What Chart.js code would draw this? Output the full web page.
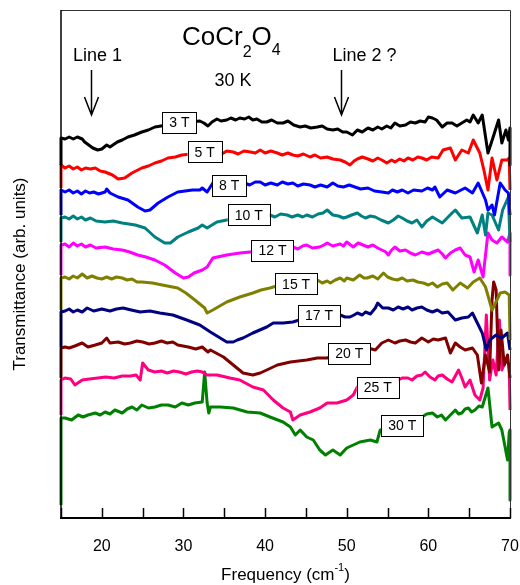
<!DOCTYPE html>
<html>
<head>
<meta charset="utf-8">
<script src="https://cdn.jsdelivr.net/npm/chart.js@4"></script>
<style>
  body { margin: 0; background: #fff; }
  canvas { display: block; }
</style>
</head>
<body>
<canvas id="chart" width="520" height="585"></canvas>
<script>
// CoCr2O4 transmittance spectra at 30 K, curves offset by field.
// Each series: [frequency (cm-1), transmittance (arb. units, offset)]

const s3T = [[15,353],[15,380],[15.5,379],[16,381],[16.5,379],[17,381],[17.6,379],[17.9,376],[18.9,370],[19.5,368],[20,369],[20.6,373],[21,371],[21.9,376],[22.5,378],[23.2,381],[24,383],[24.9,386],[25.7,388],[26.5,391],[28,393],[29.5,395],[30.8,396],[32,397],[32.5,395],[33,392],[33.5,396],[34.1,399],[34.6,397],[35.3,398],[35.8,400],[36.4,398],[36.9,400],[37.5,399],[38,401],[38.5,398],[39,399],[39.6,396],[40.2,396],[40.8,398],[41.5,395],[42.2,395],[42.8,397],[43.5,393],[44.3,391],[44.9,392],[45.6,390],[46.4,391],[47,392],[47.6,389],[48.3,388],[48.9,389],[49.5,386],[50,386],[50.7,383],[51.3,388],[51.9,386],[52.6,390],[53.2,388],[53.8,391],[54.3,389],[54.9,392],[55.4,390],[55.9,395],[56.5,392],[57.2,393],[57.8,396],[58.4,395],[59,397],[59.6,396],[60,401],[60.5,400],[61,398],[61.7,391],[62.3,395],[62.9,395],[63.5,392],[64.1,395],[64.7,398],[65.1,396],[65.5,403],[66.1,395],[66.6,403],[67.3,365],[67.9,380],[68.6,398],[69,375],[69.5,388],[69.8,378],[70,390],[70,353]];

const s5T = [[15,330],[15,353],[15.5,350],[16,352],[16.5,349],[17,351],[17.5,348],[18,350],[18.6,349],[19.2,350],[19.8,347],[20.4,346],[21.3,343],[22,339],[22.8,340],[23.7,345],[24.9,350],[25.7,352],[26.5,355],[27.3,357],[28.1,360],[29,361],[29.8,363],[31,364],[32.5,365],[34.1,366],[34.7,364],[35.3,367],[36.1,366],[36.7,364],[37.4,367],[38.2,366],[38.8,365],[39.4,368],[40,365],[40.7,367],[41.5,365],[42.1,363],[42.8,365],[43.4,363],[44,362],[44.7,364],[45.5,361],[46.1,363],[46.8,360],[47.6,361],[48.3,359],[49.2,358],[49.8,356],[50.4,353],[50.9,357],[51.3,359],[51.9,361],[52.6,359],[53.2,357],[53.8,360],[54.3,358],[54.9,355],[55.5,358],[55.9,356],[56.5,359],[57,357],[57.5,360],[58.1,358],[58.7,361],[59.2,360],[59.8,358],[60.4,361],[61.2,360],[61.8,368],[62.7,370],[63.3,358],[64.1,368],[64.9,365],[65.5,378],[66.3,365],[66.8,348],[67.3,328],[67.8,360],[68.4,338],[69,358],[69.7,358],[69.9,360],[70,328]];

const s8T = [[15,303],[15,328],[15.5,326],[16,328],[16.5,325],[17,327],[17.5,324],[18,327],[18.5,325],[19,326],[19.6,324],[20.4,326],[20.6,329],[21,325],[22,321],[23.2,318],[24.4,311],[25.3,307],[25.9,308],[26.9,315],[28.1,321],[29.3,326],[30.2,327],[31.1,328],[32,328],[32.3,330],[32.9,326],[33.6,335],[35.5,335],[37.5,335],[38.1,333],[38.8,336],[39.4,336],[40,333],[40.7,335],[41.5,333],[42.1,336],[42.8,334],[43.4,335],[44,332],[44.7,334],[45.5,333],[46.1,331],[46.8,333],[47.6,331],[48.3,335],[48.9,332],[49.6,331],[50.3,333],[51,331],[51.7,329],[52.6,330],[53.4,327],[54.3,326],[55.1,325],[55.6,328],[56.2,326],[56.8,328],[57.5,325],[58.2,328],[59.2,327],[59.9,330],[60.5,328],[60.8,331],[61.4,321],[62.3,328],[63.3,325],[64.5,330],[65.4,325],[66.1,335],[67,318],[67.3,308],[67.8,313],[68.1,303],[68.8,335],[69.4,328],[69.8,325],[70,303]];

const s10T = [[15,276],[15,300],[15.5,301],[16,299],[16.5,302],[17,299],[17.5,301],[18,298],[18.6,300],[19.3,297],[20.4,296],[21.4,297],[22.5,295],[23.3,294],[24.1,293],[25.3,290],[26.5,281],[27.7,275],[28.4,275],[29.3,281],[30.6,286],[31.8,290],[32.3,293],[32.9,290],[34.1,296],[35.3,298],[37,300],[39,302],[40.6,303],[41.2,301],[41.9,304],[42.7,303],[43.3,301],[44,303],[44.6,301],[45.1,303],[45.8,301],[46.5,304],[47.1,305],[47.6,308],[48.3,303],[49,302],[49.6,300],[50,301],[50.6,303],[51.3,305],[51.8,302],[52.3,300],[52.9,302],[53.5,301],[54.2,298],[55.1,295],[55.7,298],[56.3,302],[56.8,300],[57.4,297],[58,295],[58.6,298],[59.2,291],[59.8,297],[60.5,301],[61.1,298],[61.7,295],[62.3,300],[62.9,305],[63.3,308],[64.1,300],[65.1,301],[66,285],[66.6,303],[67,283],[67.3,305],[67.8,303],[68.6,288],[69.1,308],[69.8,321],[70,276]];

const s12T = [[15,243],[15,273],[15.5,274],[16,271],[16.5,275],[17,272],[17.5,274],[18,271],[18.6,273],[19.3,270],[20.4,271],[21.4,269],[22.5,268],[23.4,266],[24.4,263],[25.4,261],[26.5,258],[27.7,253],[29,245],[30,240],[30.6,241],[31.3,245],[32.3,248],[32.9,251],[33.6,260],[35.3,263],[36.9,265],[38.2,266],[40.9,268],[43.4,271],[44,269],[44.6,272],[45.1,273],[45.8,270],[46.7,271],[47.2,273],[47.6,275],[48.3,272],[49.2,274],[49.6,272],[50,276],[50.8,271],[51.4,275],[52,273],[52.6,271],[53.2,273],[53.8,270],[54.3,268],[54.8,266],[55.1,263],[55.5,268],[55.9,271],[56.5,267],[57.2,268],[57.8,265],[58.4,263],[59.2,266],[60,264],[60.6,266],[61.2,268],[61.7,264],[62.1,260],[62.7,265],[63.3,268],[63.9,270],[64.5,263],[65.1,261],[65.6,246],[66.1,258],[66.7,241],[67.3,285],[67.8,278],[68.4,275],[69,281],[69.7,276],[70,285],[70,243]];

const s15T = [[15,208],[15,240],[15.5,241],[16,239],[16.5,242],[17,240],[17.6,244],[18.2,240],[18.8,242],[19.4,240],[20,239],[20.6,241],[21.2,239],[21.8,241],[22.5,240],[23.1,238],[23.7,239],[24.3,236],[24.9,236],[26.2,235],[27.4,233],[29.3,230],[30.3,225],[31.4,218],[32.6,210],[32.9,205],[33.6,208],[35.3,216],[36.9,221],[38.5,225],[39.5,228],[40.6,230],[41,231],[42,233],[43.5,235],[45,236],[46.4,238],[47,235],[47.6,237],[48,235],[48.6,238],[49.2,240],[49.7,237],[50,240],[50.8,238],[51.6,243],[52.1,240],[52.5,240],[53.2,242],[53.8,239],[54.5,245],[55,241],[55.6,239],[56.2,238],[56.8,240],[57.4,237],[58.1,238],[58.7,236],[59.4,235],[60,233],[60.5,235],[61.1,231],[61.7,234],[62.3,235],[63,228],[63.9,235],[64.8,230],[65.5,236],[66.3,240],[67,231],[67.8,208],[68.4,218],[68.8,225],[69.4,226],[69.9,223],[70,178]];

const s17T = [[15,171],[15,206],[15.5,207],[16,209],[16.5,206],[17,208],[17.6,206],[18.2,210],[19,207],[20,209],[21,207],[21.8,209],[22.6,210],[23.6,208],[24.7,206],[25.9,207],[27.1,205],[28.7,203],[30.4,198],[32,193],[33.3,186],[34.5,180],[35.3,176],[36.1,176],[36.6,178],[37.3,180],[38.5,185],[40.2,191],[41,195],[42.2,195],[43.4,196],[45,200],[47,202],[49.2,203],[49.8,201],[50.4,201],[50.9,203],[51.3,205],[51.9,203],[52.3,206],[52.9,204],[53.5,210],[53.8,215],[54.4,210],[55.1,210],[55.7,208],[56.3,211],[56.9,209],[57.5,211],[58,208],[58.6,210],[59.2,211],[59.8,208],[60.5,206],[61.1,208],[61.7,205],[62.4,206],[63.3,198],[64.1,200],[64.9,201],[65.4,205],[66,195],[66.6,185],[67.1,168],[67.5,178],[68.3,183],[69,180],[69.7,185],[70,168]];

const s20T = [[15,140],[15,170],[15.5,171],[16,170],[16.7,172],[17.6,175],[18.3,171],[19.2,173],[20,175],[20.6,180],[21,175],[22,176],[22.8,174],[23.5,175],[24.3,177],[25,176],[25.8,174],[26.5,175],[27.3,177],[28,175],[28.7,176],[29.3,173],[30.6,171],[31.5,169],[32.3,171],[33,166],[33.3,168],[34.9,161],[36.1,153],[37.3,145],[38.5,143],[39.4,145],[40.2,148],[41.5,153],[43.1,156],[45.1,158],[46.4,160],[47.6,160],[49,164],[50.5,168],[52.6,170],[53.5,168],[54.3,175],[55.1,178],[55.9,175],[56.5,177],[57.2,178],[57.8,176],[58.4,175],[59.2,180],[60,176],[60.6,179],[61.2,178],[62.1,180],[62.7,165],[63.3,175],[63.9,171],[64.5,168],[65.4,170],[66,163],[66.5,135],[67,163],[67.5,146],[67.8,218],[68,236],[68.3,228],[68.6,148],[68.9,188],[69.3,153],[69.7,163],[70,140]];

const s25T = [[15,103],[15,138],[15.5,140],[16.2,139],[16.7,133],[17.6,138],[18.5,139],[19.5,140],[20.5,141],[21.5,140],[22.5,142],[23.5,142],[24.2,143],[24.7,138],[25,155],[25.7,148],[26.5,146],[27.3,147],[28,145],[28.8,147],[29.5,146],[30.3,144],[31,146],[31.7,147],[32.3,146],[32.9,143],[34.1,143],[35.7,140],[36.9,138],[38.5,131],[39.8,128],[41,118],[42.2,110],[43.1,106],[43.4,98],[44.3,103],[45.5,106],[46.7,110],[47.6,115],[48.8,115],[50,118],[50.8,123],[51.3,131],[52.6,133],[54.5,136],[56.3,138],[56.8,140],[57.5,140],[58,138],[58.6,142],[59.2,143],[59.6,146],[60.2,141],[60.8,138],[61.2,142],[61.7,143],[62.3,139],[62.9,136],[63.3,142],[63.7,148],[64.1,140],[64.5,131],[65.1,138],[65.7,123],[66.3,118],[66.7,130],[67.1,203],[67.5,138],[67.9,158],[68.3,143],[68.7,198],[69,148],[69.5,158],[69.9,153],[70,108]];

const s30T = [[15,13],[15,100],[15.5,100],[16.3,98],[17.1,103],[17.7,101],[18.3,103],[19.2,105],[19.8,103],[20.4,106],[21,104],[21.6,108],[22.5,105],[23.1,109],[23.7,111],[24.3,108],[24.9,113],[25.7,110],[26.5,111],[27.3,113],[28.1,113],[29,111],[29.8,115],[30.6,113],[31.4,115],[32.3,116],[32.6,146],[32.9,115],[33.1,105],[33.3,111],[34.5,111],[36.1,110],[37.8,106],[39.4,105],[40.6,101],[42.2,96],[43.1,91],[43.7,83],[44.3,88],[45.1,81],[45.9,78],[46.7,68],[47.4,63],[48.3,68],[49.2,63],[50,70],[51.6,76],[52.9,78],[53.7,76],[54.1,88],[55.5,93],[57,98],[57.6,100],[58.3,98],[59.2,101],[59.8,104],[60.5,105],[61.1,101],[61.6,103],[62.1,98],[62.7,103],[63.3,108],[63.7,104],[64.1,105],[64.5,109],[64.9,110],[65.3,106],[65.7,108],[66.2,112],[66.6,111],[67.3,130],[67.8,91],[68.6,95],[69,88],[69.7,58],[69.9,85],[70,88],[70,18]];

const fieldLabels = ['3 T', '5 T', '8 T', '10 T', '12 T', '15 T', '17 T', '20 T', '25 T', '30 T'];
const seriesColors = ['#000000', '#ff0000', '#0000ff', '#008080', '#ff00ff', '#808000', '#000080', '#800000', '#ff0080', '#008000'];
// where each field label box sits (frequency, offset value)
const labelX = [29.5, 32.6, 35.6, 38.0, 40.9, 43.8, 46.6, 50.3, 53.8, 56.8];
const labelY = [396, 366, 333, 303, 268, 234, 203, 165, 131, 93];

const xTicks = [20, 30, 40, 50, 60, 70];
const lineMarks = [{ text: 'Line 1', x: 18.7, dx: 6 }, { text: 'Line 2 ?', x: 49.3, dx: 23 }];

const allSeries = [s3T, s5T, s8T, s10T, s12T, s15T, s17T, s20T, s25T, s30T];

const FONT = 'Arial, "Liberation Sans", sans-serif';

const decor = {
  id: 'decor',
  afterDatasetsDraw(chart) {
    const { ctx, chartArea: a, scales: { x, y } } = chart;
    ctx.save();

    // frame
    ctx.strokeStyle = '#333';
    ctx.lineWidth = 1;
    ctx.beginPath();
    ctx.moveTo(a.left, a.top + 0.5);
    ctx.lineTo(a.right + 0.5, a.top + 0.5);
    ctx.lineTo(a.right + 0.5, a.bottom);
    ctx.stroke();
    ctx.strokeStyle = '#000';
    ctx.lineWidth = 1.5;
    ctx.beginPath();
    ctx.moveTo(a.left, a.top);
    ctx.lineTo(a.left, a.bottom);
    ctx.stroke();
    ctx.lineWidth = 2;
    ctx.beginPath();
    ctx.moveTo(a.left - 1, a.bottom);
    ctx.lineTo(a.right + 1, a.bottom);
    ctx.stroke();

    // inward ticks every 5 cm-1
    ctx.lineWidth = 1.5;
    for (let v = 15; v <= 70; v += 5) {
      const px = Math.round(x.getPixelForValue(v)) + 0.5;
      ctx.beginPath();
      ctx.moveTo(px, a.bottom);
      ctx.lineTo(px, a.bottom - 10);
      ctx.stroke();
    }

    // field labels
    ctx.font = '14px ' + FONT;
    ctx.textAlign = 'center';
    ctx.textBaseline = 'middle';
    fieldLabels.forEach((t, i) => {
      const cx = x.getPixelForValue(labelX[i]);
      const cy = y.getPixelForValue(labelY[i]);
      const w = ctx.measureText(t).width + 14;
      const h = 21;
      ctx.fillStyle = '#fff';
      ctx.fillRect(cx - w / 2, cy - h / 2, w, h);
      ctx.strokeStyle = '#000';
      ctx.lineWidth = 1;
      ctx.strokeRect(Math.round(cx - w / 2) + 0.5, Math.round(cy - h / 2) + 0.5, Math.round(w), h);
      ctx.fillStyle = '#000';
      ctx.fillText(t, cx, cy + 1);
    });

    // title
    ctx.textAlign = 'left';
    ctx.textBaseline = 'alphabetic';
    let tx = 182;
    const parts = [['CoCr', 26, 45], ['2', 16, 57], ['O', 26, 45], ['4', 16, 55]];
    parts.forEach(([t, size, base]) => {
      ctx.font = size + 'px ' + FONT;
      ctx.fillText(t, tx, base);
      tx += ctx.measureText(t).width;
    });
    ctx.font = '18px ' + FONT;
    ctx.textAlign = 'center';
    ctx.fillText('30 K', 233, 86);

    // line markers with arrows
    lineMarks.forEach((m) => {
      const px = Math.round(x.getPixelForValue(m.x)) + 0.5;
      ctx.font = '18px ' + FONT;
      ctx.textAlign = 'center';
      ctx.fillText(m.text, px + m.dx, 61);
      ctx.lineWidth = 1.5;
      ctx.beginPath();
      ctx.moveTo(px, 70);
      ctx.lineTo(px, 115);
      ctx.moveTo(px - 7, 97);
      ctx.lineTo(px, 115);
      ctx.lineTo(px + 7, 97);
      ctx.stroke();
    });

    ctx.restore();
  },
  afterDraw(chart) {
    const { ctx, chartArea: a } = chart;
    ctx.save();
    ctx.fillStyle = '#000';
    ctx.font = '17px ' + FONT;
    // y title
    ctx.translate(20, (a.top + a.bottom) / 2 + 10);
    ctx.rotate(-Math.PI / 2);
    ctx.textAlign = 'center';
    ctx.textBaseline = 'middle';
    ctx.fillText('Transmittance (arb. units)', 0, 0);
    ctx.restore();

    // x title with superscript
    ctx.save();
    ctx.fillStyle = '#000';
    ctx.textBaseline = 'alphabetic';
    const big = '17px ' + FONT, small = '11px ' + FONT;
    ctx.font = big;
    const w1 = ctx.measureText('Frequency (cm').width;
    const w3 = ctx.measureText(')').width;
    ctx.font = small;
    const w2 = ctx.measureText('-1').width;
    let sx = (a.left + a.right) / 2 - (w1 + w2 + w3) / 2;
    const base = 580;
    ctx.font = big;
    ctx.fillText('Frequency (cm', sx, base);
    ctx.font = small;
    ctx.fillText('-1', sx + w1, base - 9);
    ctx.font = big;
    ctx.fillText(')', sx + w1 + w2, base);
    ctx.restore();
  },
};

new Chart(document.getElementById('chart'), {
  type: 'line',
  data: {
    datasets: allSeries.map((s, i) => ({
      label: fieldLabels[i],
      data: s.map(([f, v]) => ({ x: f, y: v })),
      borderColor: seriesColors[i],
      borderWidth: 3,
      borderJoinStyle: 'round',
      pointRadius: 0,
      tension: 0,
      fill: false,
      clip: 3,
    })),
  },
  options: {
    responsive: false,
    animation: false,
    layout: { padding: { top: 10, right: 10, left: 0, bottom: 0 } },
    plugins: { legend: { display: false }, tooltip: { enabled: false } },
    scales: {
      x: {
        type: 'linear',
        min: 15,
        max: 70,
        grid: { display: false, drawTicks: false },
        border: { display: false },
        afterBuildTicks: (s) => { s.ticks = xTicks.map((v) => ({ value: v })); },
        afterFit: (s) => { s.height = 67; s.paddingLeft = 0; s.paddingRight = 0; },
        ticks: {
          color: '#000',
          font: { size: 16, family: FONT },
          padding: 19,
          maxRotation: 0,
          autoSkip: false,
        },
      },
      y: {
        min: 0,
        max: 508,
        grid: { display: false, drawTicks: false },
        border: { display: false },
        ticks: { display: false },
        afterFit: (s) => { s.width = 61; },
      },
    },
  },
  plugins: [decor],
});
</script>
</body>
</html>
